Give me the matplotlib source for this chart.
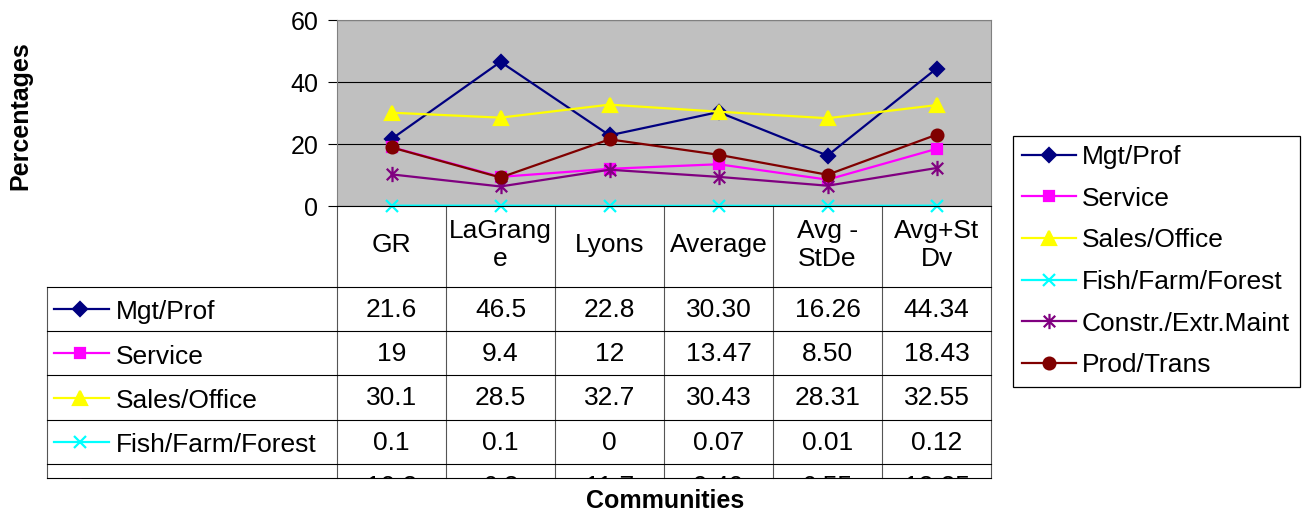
import numpy as np
import matplotlib.pyplot as plt
from matplotlib.path import Path

plt.rcParams['font.family'] = ['Liberation Sans', 'DejaVu Sans']

# occupation shares (%) by community
communities = ['GR', 'LaGrange', 'Lyons', 'Average', 'Avg -StDe', 'Avg+StDv']
header_labels = ['GR', 'LaGrang\ne', 'Lyons', 'Average', 'Avg -\nStDe', 'Avg+St\nDv']
series_names = ['Mgt/Prof', 'Service', 'Sales/Office', 'Fish/Farm/Forest',
                'Constr./Extr.Maint', 'Prod/Trans']
mgt_prof = [21.6, 46.5, 22.8, 30.30, 16.26, 44.34]
service = [19, 9.4, 12, 13.47, 8.50, 18.43]
sales_office = [30.1, 28.5, 32.7, 30.43, 28.31, 32.55]
fish_farm_forest = [0.1, 0.1, 0, 0.07, 0.01, 0.12]
constr_extr = [10.2, 6.3, 11.7, 9.40, 6.55, 12.25]
prod_trans = [18.9, 9.2, 21.5, 16.53, 10.08, 22.99]
series = [mgt_prof, service, sales_office, fish_farm_forest, constr_extr, prod_trans]

# excel style asterisk marker: vertical bar plus an X
asterisk = Path([(0, -1), (0, 1), (-0.75, -0.75), (0.75, 0.75), (-0.75, 0.75), (0.75, -0.75)],
                [Path.MOVETO, Path.LINETO] * 3)
colors = ['#000080', '#FF00FF', '#FFFF00', '#00FFFF', '#800080', '#800000']
markers = ['D', 's', '^', 'x', asterisk, 'o']
msizes = [7.5, 7.5, 9.5, 9, 11, 8.5]

FS = 19  # table / legend text size

W, H = 1306, 519
fig = plt.figure(figsize=(W / 100, H / 100), dpi=100)


def box(x0, y0, x1, y1):
    return [x0 / W, 1 - y1 / H, (x1 - x0) / W, (y1 - y0) / H]


tab = fig.add_axes(box(47, 206, 991, 478))
tab.set_zorder(1)
ax = fig.add_axes(box(337, 20, 991, 206))
ax.set_zorder(2)

x = np.arange(len(communities))

# plot area
ax.set_facecolor('#C0C0C0')
ax.set_xlim(-0.5, len(communities) - 0.5)
ax.set_ylim(0, 60)
ax.set_yticks([0, 20, 40, 60])
ax.set_xticks([])
ax.yaxis.grid(True, color='black', lw=0.8)
ax.set_axisbelow(True)
ax.tick_params(axis='y', direction='out', length=6.5, width=0.8, labelsize=18, pad=7)
for s in ['left', 'top', 'right']:
    ax.spines[s].set_color('#808080')
ax.spines['bottom'].set_color('black')

for name, vals, c, m, ms in zip(series_names, series, colors, markers, msizes):
    ax.plot(x, vals, color=c, lw=1.6, marker=m, ms=ms, mfc=c, mec=c, mew=1.6,
            clip_on=False, label=name)

# data table under the plot
left = -0.5 - 290 / 109
tab.set_xlim(left, len(communities) - 0.5)
tab.set_ylim(478, 206)
tab.axis('off')

row_h = 44.4
row_edges = [286.5 + k * row_h for k in range(len(series) + 1)]
for b in np.arange(-0.5, len(communities), 1.0):
    tab.plot([b, b], [206, 478], color='#555555', lw=0.8, clip_on=False)
tab.plot([left, left], [row_edges[0], 478], color='#555555', lw=0.8, clip_on=False)
for y in row_edges[:5]:
    tab.plot([left, x[-1] + 0.5], [y, y], color='black', lw=0.8, clip_on=False)
tab.plot([left, x[-1] + 0.5], [478, 478], color='black', lw=0.8, clip_on=False)

for i, lab in enumerate(header_labels):
    tab.text(x[i], 245, lab, ha='center', va='center', fontsize=FS, linespacing=1.25)


def px(p):
    return -0.5 + (p - 337) / 109


# half the cap height, so digits sit centred in each row
cap = FS * 100 / 72 * 0.716 / 2

for r, (name, vals, c, m, ms) in enumerate(zip(series_names, series, colors, markers, msizes)):
    yc = (row_edges[r] + row_edges[r + 1]) / 2
    tab.plot([px(54), px(109)], [yc, yc], color=c, lw=1.6, clip_on=True)
    tab.plot([px(80)], [yc], color=c, marker=m, ms=ms, mfc=c, mec=c, mew=1.6, clip_on=True)
    tab.text(px(116), yc + cap + 1, name, ha='left', va='baseline', fontsize=FS, clip_on=True)
    for i, v in enumerate(vals):
        txt = f'{v:g}' if i < 3 else f'{v:.2f}'
        tab.text(x[i], yc + cap - 1.5, txt, ha='center', va='baseline', fontsize=FS, clip_on=True)

handles, labels = ax.get_legend_handles_labels()
leg = fig.legend(handles, labels, loc='upper left', bbox_to_anchor=(1012.7 / W, 1 - 135.7 / H),
                 bbox_transform=fig.transFigure, borderaxespad=0, fontsize=FS, fancybox=False,
                 edgecolor='black', framealpha=1, handlelength=2.05, handletextpad=0.23,
                 labelspacing=0.67, borderpad=0.35, numpoints=1)
leg.get_frame().set_linewidth(0.9)

fig.text(20 / W, 1 - 116 / H, 'Percentages', rotation=90, ha='center', va='center',
         fontsize=18, fontweight='bold')
fig.text(665 / W, 1 - 501 / H, 'Communities', ha='center', va='center',
         fontsize=18, fontweight='bold')

fig.savefig('out.png', dpi=100)
